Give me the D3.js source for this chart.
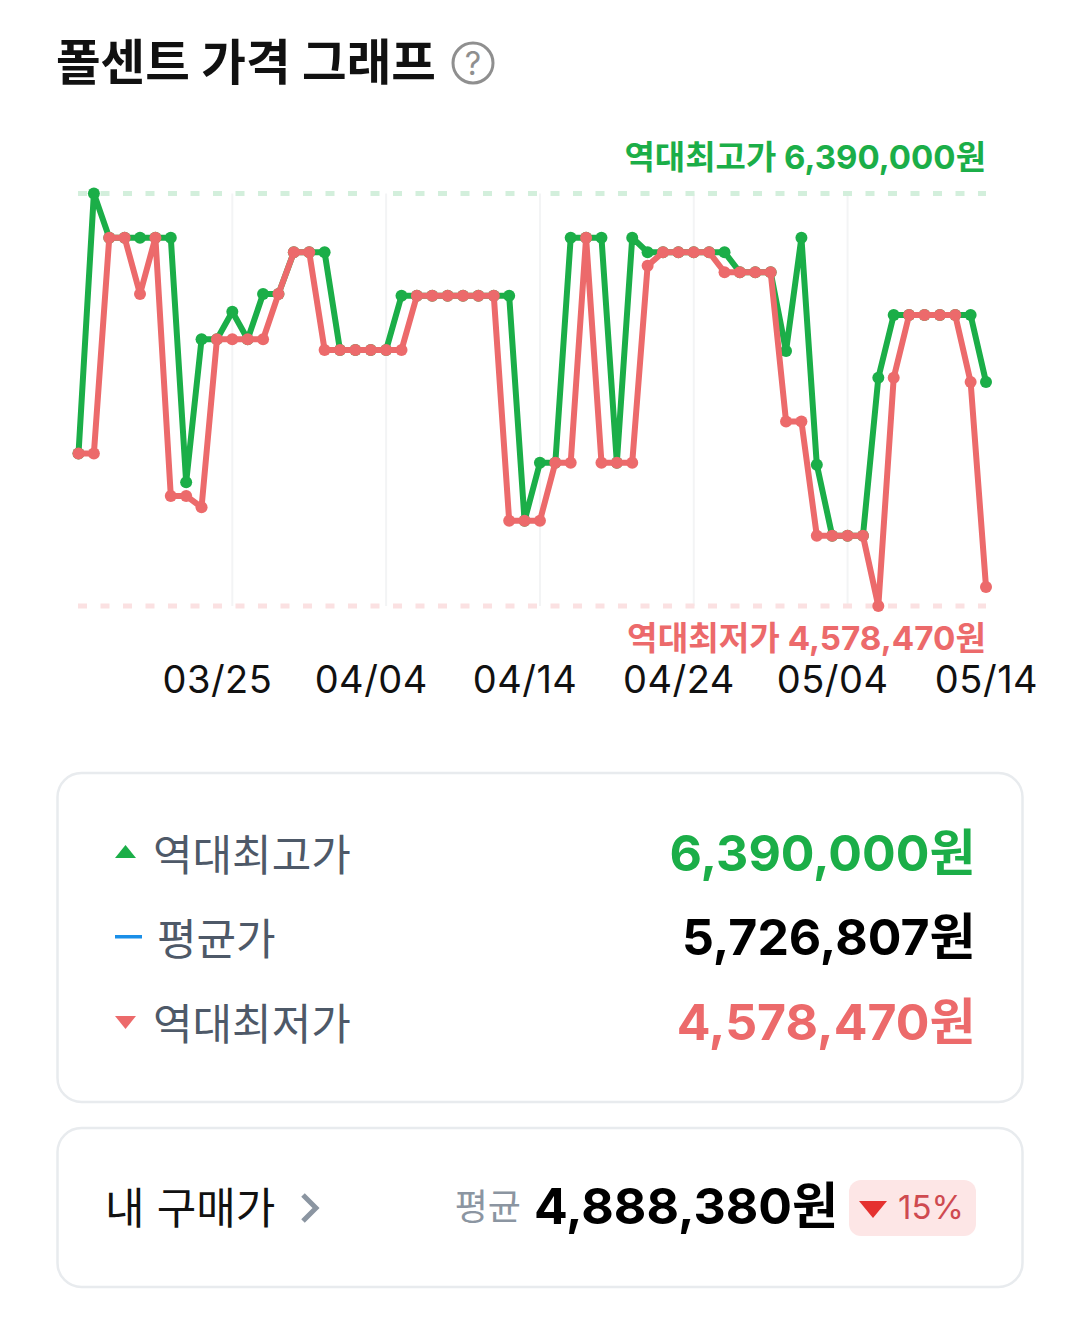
<!DOCTYPE html>
<html lang="ko">
<head>
<meta charset="utf-8">
<title>폴센트 가격 그래프</title>
<script src="https://cdn.jsdelivr.net/npm/d3@7"></script>
<style>
  html, body { margin: 0; padding: 0; background: #fff; }
  svg { display: block; }
  text { font-family: "Inter", "Noto Sans CJK KR", sans-serif; }
  .domain { display: none; }
  .tick line { display: none; }
</style>
</head>
<body>
<div id="chart"></div>
<script>
// chart data
const dates = [
  "03/16", "03/17", "03/18", "03/19", "03/20", "03/21", "03/22", "03/23", "03/24", "03/25",
  "03/26", "03/27", "03/28", "03/29", "03/30", "03/31", "04/01", "04/02", "04/03", "04/04",
  "04/05", "04/06", "04/07", "04/08", "04/09", "04/10", "04/11", "04/12", "04/13", "04/14",
  "04/15", "04/16", "04/17", "04/18", "04/19", "04/20", "04/21", "04/22", "04/23", "04/24",
  "04/25", "04/26", "04/27", "04/28", "04/29", "04/30", "05/01", "05/02", "05/03", "05/04",
  "05/05", "05/06", "05/07", "05/08", "05/09", "05/10", "05/11", "05/12", "05/13", "05/14"
];
const highPrices = [
  5248000, 6390000, 6196000, 6196000, 6196000, 6196000, 6196000, 5122000, 5750000, 5750000,
  5871000, 5750000, 5949000, 5949000, 6132000, 6132000, 6132000, 5703000, 5703000, 5703000,
  5703000, 5941000, 5941000, 5941000, 5941000, 5941000, 5941000, 5941000, 5941000, 4953000,
  5208000, 5208000, 6196000, 6196000, 6196000, 5208000, 6196000, 6132000, 6132000, 6132000,
  6132000, 6132000, 6132000, 6044000, 6044000, 6044000, 5698000, 6196000, 5199000, 4887000,
  4887000, 4887000, 5581000, 5856000, 5856000, 5856000, 5856000, 5856000, 5856000, 5562000
];
const lowPrices = [
  5248000, 5248000, 6196000, 6196000, 5949000, 6196000, 5062000, 5062000, 5012000, 5750000,
  5750000, 5750000, 5750000, 5949000, 6132000, 6132000, 5703000, 5703000, 5703000, 5703000,
  5703000, 5703000, 5941000, 5941000, 5941000, 5941000, 5941000, 5941000, 4953000, 4953000,
  4953000, 5208000, 5208000, 6196000, 5208000, 5208000, 5208000, 6073000, 6132000, 6132000,
  6132000, 6132000, 6044000, 6044000, 6044000, 6044000, 5389000, 5389000, 4887000, 4887000,
  4887000, 4887000, 4578470, 5581000, 5856000, 5856000, 5856000, 5856000, 5562000, 4662000
];
const tickLabels = ["03/25", "04/04", "04/14", "04/24", "05/04", "05/14"];
const gridDates = ["03/26", "04/05", "04/15", "04/25", "05/05"];

const maxPrice = 6390000;
const minPrice = 4578470;
const avgPrice = 5726807;
const myPrice = 4888380;
const myDiff = "15%";

const green = "#1bae48";
const red = "#ec6a6b";
const width = 1080;
const height = 1319;

const won = d3.format(",");

const svg = d3.select("#chart")
  .append("svg")
  .attr("width", width)
  .attr("height", height);

// title
svg.append("text")
  .attr("x", 56)
  .attr("y", 80)
  .attr("font-size", 48.5)
  .attr("font-weight", 700)
  .attr("fill", "#111")
  .text("폴센트 가격 그래프");

svg.append("circle")
  .attr("cx", 473).attr("cy", 63).attr("r", 20)
  .attr("fill", "none").attr("stroke", "#8f8f8f").attr("stroke-width", 3);

svg.append("text")
  .attr("x", 473).attr("y", 75)
  .attr("text-anchor", "middle")
  .attr("font-size", 32)
  .attr("fill", "#8f8f8f")
  .text("?");

// scales
const xScale = d3.scalePoint().domain(dates).range([78.5, 986]);
const yScale = d3.scaleLinear().domain([minPrice, maxPrice]).range([606, 193.5]);

// gridlines, they sit one day after the labels
svg.append("g")
  .selectAll("line")
  .data(gridDates)
  .enter()
  .append("line")
  .attr("x1", (d) => xScale(d))
  .attr("x2", (d) => xScale(d))
  .attr("y1", yScale(maxPrice))
  .attr("y2", yScale(minPrice))
  .attr("stroke", "#f3f4f5")
  .attr("stroke-width", 2);

// dashed max / min lines
[[maxPrice, "#d3efdc"], [minPrice, "#fbe1e2"]].forEach((d) => {
  svg.append("line")
    .attr("x1", 78)
    .attr("x2", 986)
    .attr("y1", yScale(d[0]))
    .attr("y2", yScale(d[0]))
    .attr("stroke", d[1])
    .attr("stroke-width", 5)
    .attr("stroke-dasharray", "9 13.5");
});

// x axis
const xAxis = d3.axisBottom(xScale)
  .tickValues(tickLabels)
  .tickSize(0)
  .tickPadding(0);

svg.append("g")
  .attr("id", "x-axis")
  .attr("transform", "translate(0,648)")
  .call(xAxis)
  .selectAll("text")
  .attr("dy", 0)
  .attr("y", 45)
  .attr("font-size", 38)
  .attr("letter-spacing", 0.5)
  .attr("fill", "#111")
  .style("font-family", '"Inter", "Noto Sans CJK KR", sans-serif');

// lines and points
function drawSeries(values, color) {
  const line = d3.line()
    .x((d, i) => xScale(dates[i]))
    .y((d) => yScale(d));

  svg.append("path")
    .datum(values)
    .attr("fill", "none")
    .attr("stroke", color)
    .attr("stroke-width", 6)
    .attr("stroke-linejoin", "round")
    .attr("d", line);

  svg.append("g")
    .selectAll("circle")
    .data(values)
    .enter()
    .append("circle")
    .attr("cx", (d, i) => xScale(dates[i]))
    .attr("cy", (d) => yScale(d))
    .attr("r", 6)
    .attr("fill", color);
}

drawSeries(highPrices, green);
drawSeries(lowPrices, red);

// max / min captions
svg.append("text")
  .attr("x", 986).attr("y", 169)
  .attr("text-anchor", "end")
  .attr("font-size", 33)
  .attr("font-weight", 700)
  .attr("fill", green)
  .text("역대최고가 " + won(maxPrice) + "원");

svg.append("text")
  .attr("x", 986).attr("y", 650)
  .attr("text-anchor", "end")
  .attr("font-size", 33.2)
  .attr("font-weight", 700)
  .attr("fill", red)
  .text("역대최저가 " + won(minPrice) + "원");

// summary card
function card(y, h) {
  svg.append("rect")
    .attr("x", 57.5).attr("y", y)
    .attr("width", 965).attr("height", h)
    .attr("rx", 24)
    .attr("fill", "#fff")
    .attr("stroke", "#e8ebee")
    .attr("stroke-width", 2.5);
}

card(773, 329);
card(1128, 159);

const rows = [
  { label: "역대최고가", value: maxPrice, color: green, y: 871, labelX: 153 },
  { label: "평균가", value: avgPrice, color: "#000", y: 955, labelX: 157 },
  { label: "역대최저가", value: minPrice, color: red, y: 1040, labelX: 153 }
];

rows.forEach((d) => {
  svg.append("text")
    .attr("x", d.labelX).attr("y", d.y)
    .attr("font-size", 43)
    .attr("fill", "#4e5968")
    .text(d.label);

  svg.append("text")
    .attr("x", 975.5).attr("y", d.y)
    .attr("text-anchor", "end")
    .attr("font-size", 50)
    .attr("font-weight", 700)
    .attr("fill", d.color)
    .text(won(d.value) + "원");
});

// row markers
svg.append("path").attr("d", "M115,858 L136,858 L125.500,845 Z").attr("fill", green);
svg.append("rect").attr("x", 115).attr("y", 935).attr("width", 27).attr("height", 3.5).attr("fill", "#1a8fe8");
svg.append("path").attr("d", "M115,1016 L136,1016 L125.500,1029 Z").attr("fill", red);

// my purchase price
svg.append("text")
  .attr("x", 105).attr("y", 1224)
  .attr("font-size", 43)
  .attr("fill", "#111")
  .text("내 구매가");

svg.append("path")
  .attr("d", "M303,1195 L316,1208 L303,1221")
  .attr("fill", "none")
  .attr("stroke", "#8b95a1")
  .attr("stroke-width", 5);

svg.append("text")
  .attr("x", 521).attr("y", 1220)
  .attr("text-anchor", "end")
  .attr("font-size", 36)
  .attr("fill", "#8b95a1")
  .text("평균");

svg.append("text")
  .attr("x", 838).attr("y", 1224)
  .attr("text-anchor", "end")
  .attr("font-size", 50)
  .attr("font-weight", 700)
  .attr("fill", "#000")
  .text(won(myPrice) + "원");

svg.append("rect")
  .attr("x", 849).attr("y", 1180)
  .attr("width", 127).attr("height", 56)
  .attr("rx", 12)
  .attr("fill", "#fde6e6");

svg.append("path").attr("d", "M859,1201 L887,1201 L873,1218 Z").attr("fill", "#e5312f");

svg.append("text")
  .attr("x", 898).attr("y", 1219)
  .attr("font-size", 33)
  .attr("fill", "#cf4a50")
  .text(myDiff);
</script>
</body>
</html>
